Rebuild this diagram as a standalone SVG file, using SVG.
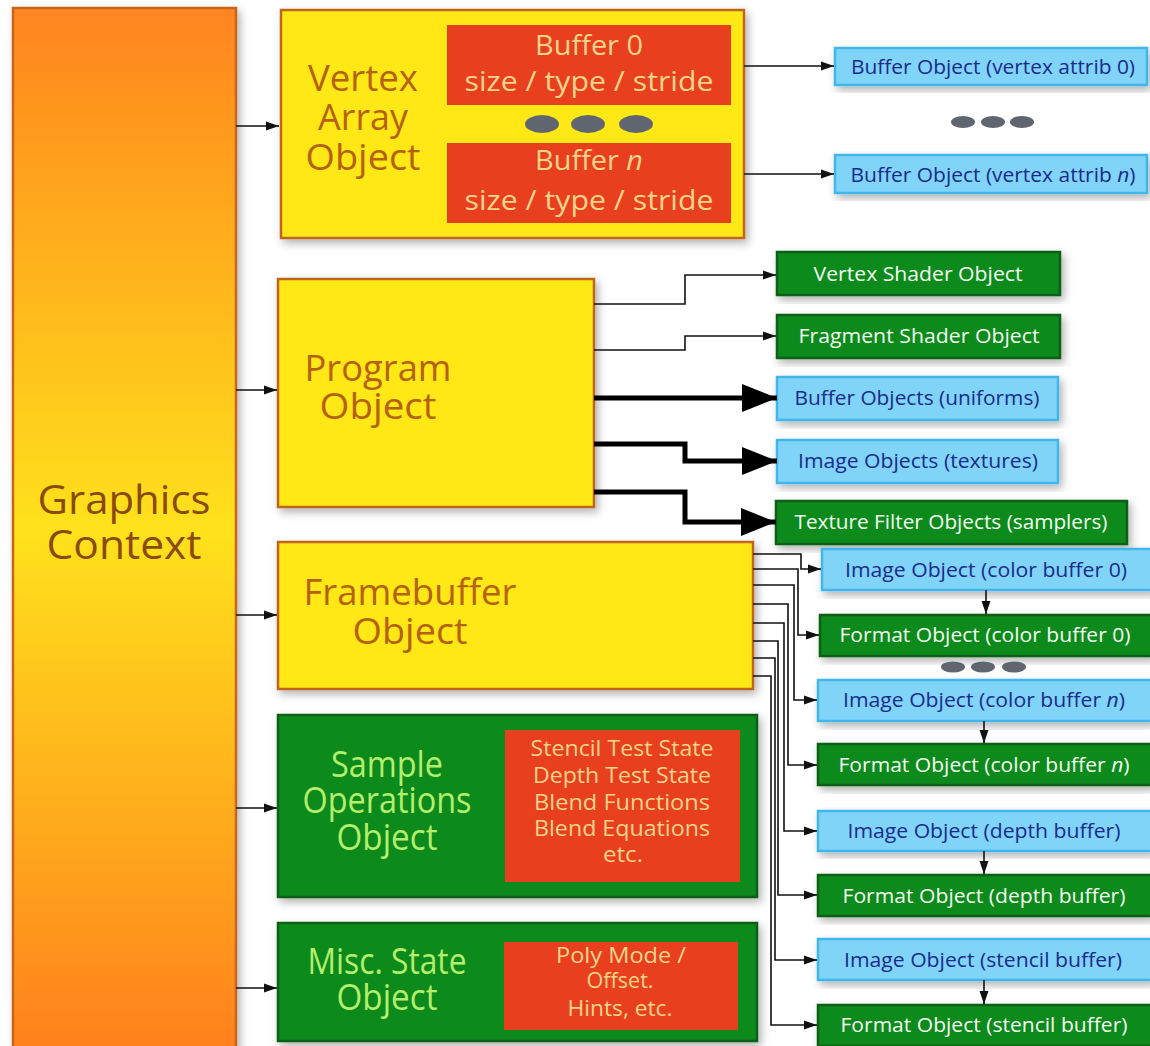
<svg xmlns="http://www.w3.org/2000/svg" width="1150" height="1046" viewBox="0 0 1150 1046">
<style>
text{font-family:"Open Sans","Noto Sans","Liberation Sans",sans-serif;text-anchor:middle;}
.yel{fill:#ffe816;stroke:#c0651e;stroke-width:2.5;}
.red{fill:#e8401e;}
.grn{fill:#0b8a1f;stroke:#0a5e12;stroke-width:2.5;}
.blu{fill:#80d4f8;stroke:#3fb6ea;stroke-width:2.5;}
.ytx{fill:#b5610e;font-size:36px;}
.rtx{fill:#f8d48a;font-size:28px;}
.stx{fill:#f8d48a;font-size:22px;}
.gtx{fill:#b4ef6c;font-size:36px;}
.wtx{fill:#f2fff0;font-size:20px;}
.btx{fill:#1a2b8c;font-size:20px;}
.dot{fill:#5f6670;}
.thin{fill:none;stroke:#111;stroke-width:1.6;marker-end:url(#ah);}
.thick{fill:none;stroke:#000;stroke-width:5;marker-end:url(#big);}
</style>
<defs>
<linearGradient id="gc" x1="0" y1="0" x2="0" y2="1">
<stop offset="0" stop-color="#ff8420"/>
<stop offset="0.5" stop-color="#ffe21a"/>
<stop offset="1" stop-color="#ff7f1e"/>
</linearGradient>
<filter id="sh" x="-10%" y="-10%" width="125%" height="130%">
<feDropShadow dx="3" dy="4" stdDeviation="4" flood-color="#000" flood-opacity="0.3"/>
</filter>
<marker id="ah" markerUnits="userSpaceOnUse" markerWidth="14" markerHeight="10" refX="13" refY="5" orient="auto">
<path d="M0,0.5 L13,5 L0,9.5 z" fill="#111"/>
</marker>
<marker id="big" markerUnits="userSpaceOnUse" markerWidth="36" markerHeight="28" refX="35" refY="14" orient="auto">
<path d="M0,0 L35,14 L0,28 z" fill="#000"/>
</marker>
</defs>
<rect width="1150" height="1046" fill="#ffffff"/>

<g id="graphics-context">
<rect x="13" y="8" width="223" height="1045" fill="url(#gc)" stroke="#c8651a" stroke-width="2.5" filter="url(#sh)"/>
<text x="124" y="514" fill="#8a4a0c" font-size="40" textLength="173" lengthAdjust="spacingAndGlyphs">Graphics</text>
<text x="124" y="559" fill="#8a4a0c" font-size="40" textLength="155" lengthAdjust="spacingAndGlyphs">Context</text>
</g>

<g id="vertex-array-object">
<rect class="yel" x="281" y="10" width="463" height="228" filter="url(#sh)"/>
<text class="ytx" x="363" y="91" textLength="110" lengthAdjust="spacingAndGlyphs">Vertex</text>
<text class="ytx" x="363" y="130" textLength="90" lengthAdjust="spacingAndGlyphs">Array</text>
<text class="ytx" x="363" y="170" textLength="115" lengthAdjust="spacingAndGlyphs">Object</text>
<rect class="red" x="447" y="25" width="284" height="80"/>
<text class="rtx" x="589" y="55" textLength="108" lengthAdjust="spacingAndGlyphs">Buffer 0</text>
<text class="rtx" x="589" y="91" textLength="249" lengthAdjust="spacingAndGlyphs">size / type / stride</text>
<ellipse class="dot" cx="542" cy="124" rx="17" ry="9"/>
<ellipse class="dot" cx="588" cy="124" rx="17" ry="9"/>
<ellipse class="dot" cx="636" cy="124" rx="17" ry="9"/>
<rect class="red" x="447" y="143" width="284" height="80"/>
<text class="rtx" x="589" y="170" textLength="108" lengthAdjust="spacingAndGlyphs">Buffer <tspan font-style="italic">n</tspan></text>
<text class="rtx" x="589" y="210" textLength="249" lengthAdjust="spacingAndGlyphs">size / type / stride</text>
</g>

<g id="buffer-object-0">
<rect class="blu" x="835" y="48" width="312" height="37" filter="url(#sh)"/>
<text class="btx" x="993" y="74" textLength="284" lengthAdjust="spacingAndGlyphs">Buffer Object (vertex attrib 0)</text>
</g>
<g id="buffer-dots">
<ellipse class="dot" cx="963" cy="122" rx="12" ry="6"/>
<ellipse class="dot" cx="993" cy="122" rx="12" ry="6"/>
<ellipse class="dot" cx="1022" cy="122" rx="12" ry="6"/>
</g>
<g id="buffer-object-n">
<rect class="blu" x="835" y="155" width="312" height="38" filter="url(#sh)"/>
<text class="btx" x="993" y="182" textLength="285" lengthAdjust="spacingAndGlyphs">Buffer Object (vertex attrib <tspan font-style="italic">n</tspan>)</text>
</g>

<g id="program-object">
<rect class="yel" x="278" y="279" width="316" height="228" filter="url(#sh)"/>
<text class="ytx" x="378" y="381" textLength="147" lengthAdjust="spacingAndGlyphs">Program</text>
<text class="ytx" x="378" y="419" textLength="117" lengthAdjust="spacingAndGlyphs">Object</text>
</g>

<g id="vertex-shader-object">
<rect class="grn" x="777" y="252" width="283" height="43" filter="url(#sh)"/>
<text class="wtx" x="918" y="281" textLength="209" lengthAdjust="spacingAndGlyphs">Vertex Shader Object</text>
</g>
<g id="fragment-shader-object">
<rect class="grn" x="777" y="315" width="283" height="43" filter="url(#sh)"/>
<text class="wtx" x="919" y="343" textLength="241" lengthAdjust="spacingAndGlyphs">Fragment Shader Object</text>
</g>
<g id="buffer-objects-uniforms">
<rect class="blu" x="777" y="377" width="281" height="43" filter="url(#sh)"/>
<text class="btx" x="917" y="405" textLength="245" lengthAdjust="spacingAndGlyphs">Buffer Objects (uniforms)</text>
</g>
<g id="image-objects-textures">
<rect class="blu" x="777" y="440" width="281" height="43" filter="url(#sh)"/>
<text class="btx" x="918" y="468" textLength="240" lengthAdjust="spacingAndGlyphs">Image Objects (textures)</text>
</g>
<g id="texture-filter-objects">
<rect class="grn" x="776" y="501" width="351" height="43" filter="url(#sh)"/>
<text class="wtx" x="951" y="529" textLength="313" lengthAdjust="spacingAndGlyphs">Texture Filter Objects (samplers)</text>
</g>

<g id="framebuffer-object">
<rect class="yel" x="278" y="542" width="475" height="147" filter="url(#sh)"/>
<text class="ytx" x="410" y="605" textLength="213" lengthAdjust="spacingAndGlyphs">Framebuffer</text>
<text class="ytx" x="410" y="644" textLength="115" lengthAdjust="spacingAndGlyphs">Object</text>
</g>

<g id="image-object-cb0">
<rect class="blu" x="822" y="549" width="330" height="41" filter="url(#sh)"/>
<text class="btx" x="986" y="577" textLength="282" lengthAdjust="spacingAndGlyphs">Image Object (color buffer 0)</text>
</g>
<g id="format-object-cb0">
<rect class="grn" x="820" y="615" width="332" height="41" filter="url(#sh)"/>
<text class="wtx" x="985" y="642" textLength="291" lengthAdjust="spacingAndGlyphs">Format Object (color buffer 0)</text>
</g>
<g id="fb-dots">
<ellipse class="dot" cx="953" cy="667" rx="12" ry="5.5"/>
<ellipse class="dot" cx="983" cy="667" rx="12" ry="5.5"/>
<ellipse class="dot" cx="1014" cy="667" rx="12" ry="5.5"/>
</g>
<g id="image-object-cbn">
<rect class="blu" x="818" y="680" width="334" height="41" filter="url(#sh)"/>
<text class="btx" x="984" y="707" textLength="282" lengthAdjust="spacingAndGlyphs">Image Object (color buffer <tspan font-style="italic">n</tspan>)</text>
</g>
<g id="format-object-cbn">
<rect class="grn" x="818" y="744" width="334" height="41" filter="url(#sh)"/>
<text class="wtx" x="984" y="772" textLength="291" lengthAdjust="spacingAndGlyphs">Format Object (color buffer <tspan font-style="italic">n</tspan>)</text>
</g>
<g id="image-object-depth">
<rect class="blu" x="818" y="811" width="334" height="40" filter="url(#sh)"/>
<text class="btx" x="984" y="838" textLength="273" lengthAdjust="spacingAndGlyphs">Image Object (depth buffer)</text>
</g>
<g id="format-object-depth">
<rect class="grn" x="818" y="875" width="334" height="41" filter="url(#sh)"/>
<text class="wtx" x="984" y="903" textLength="283" lengthAdjust="spacingAndGlyphs">Format Object (depth buffer)</text>
</g>
<g id="image-object-stencil">
<rect class="blu" x="818" y="939" width="334" height="41" filter="url(#sh)"/>
<text class="btx" x="983" y="967" textLength="278" lengthAdjust="spacingAndGlyphs">Image Object (stencil buffer)</text>
</g>
<g id="format-object-stencil">
<rect class="grn" x="818" y="1005" width="334" height="41" filter="url(#sh)"/>
<text class="wtx" x="984" y="1032" textLength="287" lengthAdjust="spacingAndGlyphs">Format Object (stencil buffer)</text>
</g>

<g id="sample-operations-object">
<rect class="grn" x="278" y="715" width="479" height="182" filter="url(#sh)"/>
<text class="gtx" x="387" y="777" textLength="112" lengthAdjust="spacingAndGlyphs">Sample</text>
<text class="gtx" x="387" y="813" textLength="169" lengthAdjust="spacingAndGlyphs">Operations</text>
<text class="gtx" x="387" y="850" textLength="101" lengthAdjust="spacingAndGlyphs">Object</text>
<rect class="red" x="505" y="730" width="235" height="152"/>
<text class="stx" x="622" y="756" textLength="183" lengthAdjust="spacingAndGlyphs">Stencil Test State</text>
<text class="stx" x="622" y="783" textLength="178" lengthAdjust="spacingAndGlyphs">Depth Test State</text>
<text class="stx" x="622" y="810" textLength="176" lengthAdjust="spacingAndGlyphs">Blend Functions</text>
<text class="stx" x="622" y="836" textLength="176" lengthAdjust="spacingAndGlyphs">Blend Equations</text>
<text class="stx" x="623" y="862" textLength="40" lengthAdjust="spacingAndGlyphs">etc.</text>
</g>

<g id="misc-state-object">
<rect class="grn" x="278" y="923" width="479" height="118" filter="url(#sh)"/>
<text class="gtx" x="387" y="974" textLength="159" lengthAdjust="spacingAndGlyphs">Misc. State</text>
<text class="gtx" x="387" y="1010" textLength="101" lengthAdjust="spacingAndGlyphs">Object</text>
<rect class="red" x="504" y="942" width="234" height="88"/>
<text class="stx" x="621" y="963" textLength="130" lengthAdjust="spacingAndGlyphs">Poly Mode /</text>
<text class="stx" x="620" y="988" textLength="67" lengthAdjust="spacingAndGlyphs">Offset.</text>
<text class="stx" x="620" y="1016" textLength="105" lengthAdjust="spacingAndGlyphs">Hints, etc.</text>
</g>

<g id="connectors">
<path class="thin" d="M236,126 H279"/>
<path class="thin" d="M236,390 H277"/>
<path class="thin" d="M236,615 H277"/>
<path class="thin" d="M236,808 H277"/>
<path class="thin" d="M236,988 H277"/>
<path class="thin" d="M744,66 H834"/>
<path class="thin" d="M744,174 H834"/>
<path class="thin" d="M594,304 H685 V275 H776"/>
<path class="thin" d="M594,350 H685 V336 H776"/>
<path class="thick" d="M594,398 H777"/>
<path class="thick" d="M594,444 H685 V461 H777"/>
<path class="thick" d="M594,492 H685 V522 H776"/>
<path class="thin" d="M753,554 H801 V569 H821"/>
<path class="thin" d="M753,569 H798 V635 H819"/>
<path class="thin" d="M753,585 H794 V700 H817"/>
<path class="thin" d="M753,604 H788 V765 H817"/>
<path class="thin" d="M753,623 H784 V831 H817"/>
<path class="thin" d="M753,641 H778 V895 H817"/>
<path class="thin" d="M753,658 H775 V960 H817"/>
<path class="thin" d="M753,676 H771 V1025 H817"/>
<path class="thin" d="M986,590 V614"/>
<path class="thin" d="M984,721 V743"/>
<path class="thin" d="M984,851 V874"/>
<path class="thin" d="M984,980 V1004"/>
</g>
</svg>
